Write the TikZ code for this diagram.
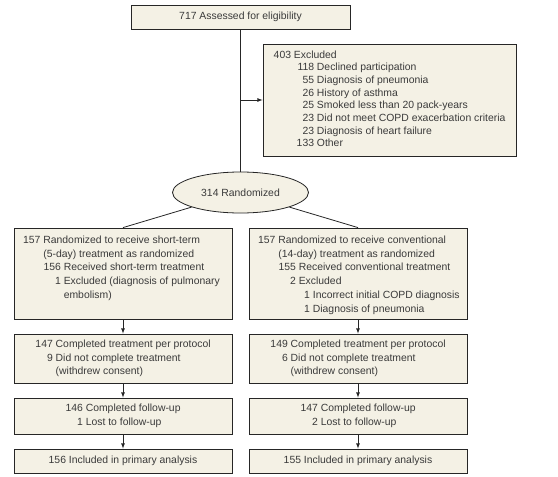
\documentclass[tikz,border=0pt]{standalone}
\usepackage{fontspec}
\setmainfont{Liberation Sans}
\usetikzlibrary{shapes.geometric}
\definecolor{boxfill}{RGB}{244,241,229}
\definecolor{boxtext}{RGB}{58,58,58}
\newcommand{\nb}[1]{\makebox[17.5pt][r]{#1}\ }
\newcommand{\boxlines}[1]{\begin{tabular}{@{}l@{}}#1\end{tabular}}
\newcommand{\armtop}[1]{\parbox[t][79pt][t]{200pt}{\boxlines{#1}}}

\begin{document}
\begin{tikzpicture}[x=1pt, y=-1pt,
    box/.style={draw=black!85, line width=0.8pt, fill=boxfill, text=boxtext,
        font=\fontsize{10.4}{13.7}\selectfont, inner sep=0pt, minimum width=218pt},
    conn/.style={draw=black!85, line width=0.8pt}]
                    \useasboundingbox (0,0) rectangle (558,477);

                    \node[box, minimum width=219pt, minimum height=24pt] (elig) at (240.5,17) {717 Assessed for eligibility};
                    \node[box, minimum width=253pt, minimum height=112pt, font=\fontsize{10.4}{12.7}\selectfont] (excl) at (389.5,100) {\boxlines{%
                        \nb{403}Excluded\\
                        \hspace*{23pt}\nb{118}Declined participation\\
                        \hspace*{23pt}\nb{55}Diagnosis of pneumonia\\
                        \hspace*{23pt}\nb{26}History of asthma\\
                        \hspace*{23pt}\nb{25}Smoked less than 20 pack-years\\
                        \hspace*{23pt}\nb{23}Did not meet COPD exacerbation criteria\\
                        \hspace*{23pt}\nb{23}Diagnosis of heart failure\\
                        \hspace*{23pt}\nb{133}Other}};
                    \node[box, ellipse, minimum width=136pt, minimum height=41pt] (rand) at (240.5,192.5) {314 Randomized};

                    \node[box, inner xsep=9pt, inner ysep=6pt] (sa) at (123,273.5) {\armtop{%
                        \nb{157}Randomized to receive short-term\\
                        \nb{}(5-day) treatment as randomized\\
                        \nb{}\nb{156}Received short-term treatment\\
                        \nb{}\nb{1}Excluded (diagnosis of pulmonary\\
                        \nb{}\nb{}embolism)}};
                    \node[box, inner xsep=9pt, inner ysep=6pt] (ca) at (358,273.5) {\armtop{%
                        \nb{157}Randomized to receive conventional\\
                        \nb{}(14-day) treatment as randomized\\
                        \nb{}\nb{155}Received conventional treatment\\
                        \nb{}\nb{2}Excluded\\
                        \hspace*{34.5pt}\nb{1}Incorrect initial COPD diagnosis\\
                        \hspace*{34.5pt}\nb{1}Diagnosis of pneumonia}};

                    \node[box, minimum height=49pt] (sb) at (123,358.5) {\boxlines{%
                        \nb{147}Completed treatment per protocol\\
                        \nb{9}Did not complete treatment\\
                        \nb{}(withdrew consent)}};
                    \node[box, minimum height=49pt] (cb) at (358,358.5) {\boxlines{%
                        \nb{149}Completed treatment per protocol\\
                        \nb{6}Did not complete treatment\\
                        \nb{}(withdrew consent)}};

                    \node[box, minimum height=36pt] (sc) at (123,416) {\boxlines{%
                        \nb{146}Completed follow-up\\
                        \nb{1}Lost to follow-up}};
                    \node[box, minimum height=36pt] (cc) at (358,416) {\boxlines{%
                        \nb{147}Completed follow-up\\
                        \nb{2}Lost to follow-up}};

                    \node[box, minimum height=24pt] (sd) at (123,461) {156 Included in primary analysis};
                    \node[box, minimum height=24pt] (cd) at (358,461) {155 Included in primary analysis};

                    \coordinate (split) at (240.5,100);
                    \draw[conn] (elig) -- (rand);
                    \draw[conn, -latex] (split) -- (excl);

                    \draw[conn] (rand) -- (sa.north);
                    \draw[conn] (rand) -- (ca.north);

                    \draw[conn, -latex] (sa) -- (sb);
                    \draw[conn, -latex] (sb) -- (sc);
                    \draw[conn, -latex] (sc) -- (sd);
                    \draw[conn, -latex] (ca) -- (cb);
                    \draw[conn, -latex] (cb) -- (cc);
                    \draw[conn, -latex] (cc) -- (cd);
                \end{tikzpicture}
\end{document}
